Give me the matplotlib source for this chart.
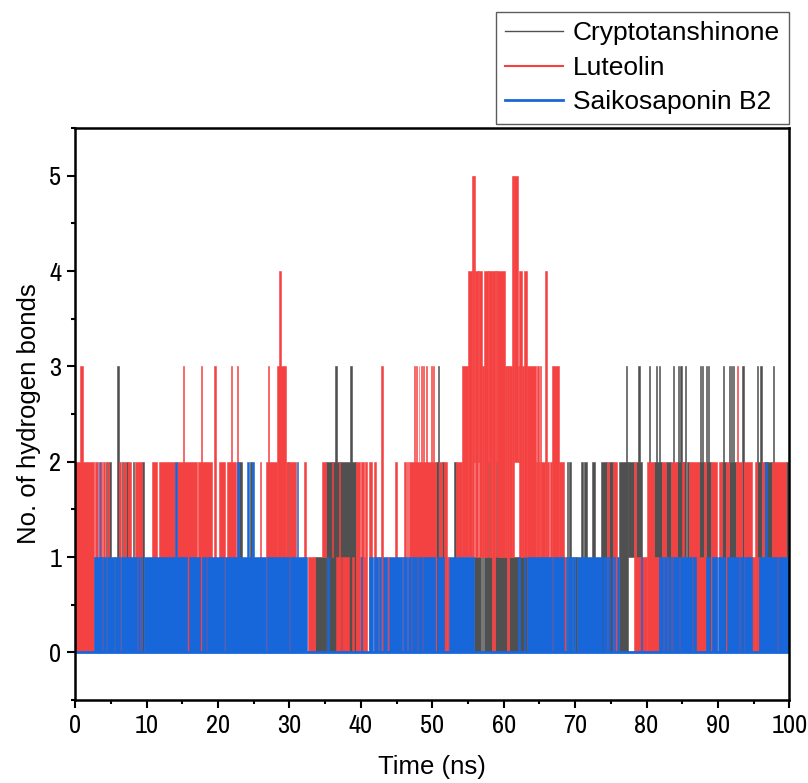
import matplotlib
matplotlib.use("Agg")
import matplotlib.pyplot as plt
from matplotlib.lines import Line2D
from matplotlib.ticker import MultipleLocator
from matplotlib import font_manager

plt.rcParams['font.family'] = ['Liberation Sans', 'DejaVu Sans']

# tick numbers in the original are set in a narrow face; use one if installed
narrow = None
for f in font_manager.fontManager.ttflist:
    if f.style != 'normal' or str(f.weight) not in ('400', 'normal', 'regular'):
        continue
    if 'Narrow' in f.name or (f.stretch == 'condensed' and f.name in ('Noto Sans', 'Open Sans', 'Roboto')):
        narrow = f.fname
        break
if narrow:
    tick_font = font_manager.FontProperties(fname=narrow, size=19)
else:
    tick_font = font_manager.FontProperties(family='Liberation Sans', size=16)

# Hydrogen bond count read off the trajectory plot as runs:
# (start ns, end ns, lowest count, highest count) the trace sweeps within that window
cryptotanshinone = [
    (3.70, 3.85, 0, 1), (4.25, 4.50, 0, 2), (4.80, 5.05, 0, 2), (5.50, 5.62, 0, 1),
    (5.90, 6.08, 0, 3), (6.50, 6.70, 0, 2), (7.15, 7.35, 0, 2), (8.10, 8.30, 0, 2),
    (9.40, 9.70, 0, 2), (22.90, 23.40, 0, 2), (24.55, 24.75, 0, 2), (29.80, 29.95, 0, 2),
    (33.60, 35.10, 0, 1), (35.10, 39.30, 0, 2), (36.45, 36.65, 2, 3), (38.55, 38.75, 2, 3),
    (50.55, 50.75, 0, 2), (50.85, 51.00, 0, 3), (51.40, 51.60, 0, 2), (53.00, 53.30, 0, 2),
    (55.80, 56.80, 0, 1), (56.95, 57.05, 0, 1), (57.20, 58.40, 0, 1), (57.85, 57.95, 0, 2),
    (58.80, 60.40, 0, 1), (58.95, 59.05, 0, 2), (60.70, 63.30, 0, 1),
    (68.85, 69.05, 0, 2), (69.10, 69.40, 0, 2), (69.55, 69.70, 0, 1), (70.05, 70.20, 0, 1),
    (70.80, 71.10, 0, 2), (71.20, 71.70, 0, 2), (72.40, 72.80, 0, 2), (73.60, 74.40, 0, 2),
    (74.80, 75.30, 0, 2), (76.10, 77.35, 0, 2), (77.35, 78.20, 1, 2), (77.10, 77.30, 2, 3),
    (78.50, 79.30, 0, 2), (78.85, 79.05, 2, 3), (80.30, 80.45, 0, 3), (81.00, 82.20, 0, 2),
    (81.35, 81.50, 2, 3), (81.80, 81.95, 2, 3), (82.70, 83.40, 0, 2), (83.75, 83.90, 0, 3),
    (84.30, 85.50, 0, 2), (84.45, 84.60, 2, 3), (84.75, 84.90, 2, 3), (85.35, 85.50, 2, 3),
    (85.70, 85.95, 0, 2), (87.30, 88.00, 0, 2), (87.45, 87.60, 2, 3), (87.70, 87.85, 2, 3),
    (88.30, 89.00, 0, 2), (88.30, 88.45, 2, 3), (88.65, 88.80, 2, 3), (90.60, 91.10, 0, 2),
    (90.75, 90.90, 2, 3), (91.50, 92.50, 0, 2), (91.55, 91.70, 2, 3), (91.85, 92.00, 2, 3),
    (92.10, 92.25, 2, 3), (93.40, 93.60, 0, 3), (95.50, 96.20, 0, 2), (95.45, 95.60, 2, 3),
    (95.95, 96.10, 2, 3), (96.40, 97.60, 0, 2), (97.75, 97.90, 0, 3), (99.50, 99.80, 0, 2),
]

luteolin = [
    (0.00, 2.60, 0, 2), (0.65, 1.05, 2, 3), (2.75, 3.25, 0, 2), (3.50, 3.70, 0, 2),
    (3.85, 4.20, 0, 2), (4.50, 4.80, 0, 2), (6.08, 6.45, 0, 2), (6.70, 7.10, 0, 2),
    (7.35, 7.75, 0, 2), (8.40, 9.30, 0, 2), (10.70, 11.50, 0, 2), (11.80, 13.95, 0, 2),
    (14.25, 17.00, 0, 2), (15.10, 15.28, 2, 3), (17.20, 19.20, 0, 2), (17.65, 17.82, 2, 3),
    (19.50, 19.70, 0, 3), (20.10, 20.95, 0, 2), (21.25, 22.50, 0, 2), (21.80, 21.95, 2, 3),
    (22.60, 22.75, 0, 3), (25.85, 26.05, 0, 2), (26.70, 28.30, 0, 2), (26.95, 27.10, 2, 3),
    (28.30, 29.50, 0, 3), (28.60, 28.80, 3, 4), (29.50, 29.80, 0, 2), (30.00, 30.95, 0, 2),
    (32.10, 32.30, 0, 2), (32.60, 33.60, 0, 1), (34.60, 35.10, 1, 2), (36.00, 36.10, 1, 2),
    (36.50, 37.20, 0, 1), (37.00, 37.10, 1, 2), (37.40, 38.30, 0, 1), (38.70, 39.00, 0, 1),
    (39.30, 39.85, 0, 2), (39.85, 40.05, 0, 1), (40.05, 40.40, 0, 2), (40.40, 40.55, 0, 1),
    (40.55, 40.90, 0, 2), (41.20, 41.50, 0, 2), (41.80, 42.10, 0, 2), (42.40, 42.60, 0, 1),
    (42.80, 43.05, 0, 3), (43.70, 43.90, 0, 1), (44.80, 45.10, 0, 2), (45.70, 45.90, 0, 1),
    (46.00, 46.30, 0, 2), (46.45, 46.60, 0, 2), (46.80, 50.55, 0, 2), (47.45, 47.60, 2, 3),
    (47.75, 47.85, 2, 3), (48.10, 48.20, 2, 3), (48.40, 48.50, 2, 3), (48.70, 48.80, 2, 3),
    (49.10, 49.25, 2, 3), (49.85, 50.00, 2, 3), (50.05, 50.20, 2, 3), (50.95, 51.35, 0, 2),
    (51.60, 52.10, 0, 2), (52.10, 52.30, 0, 1), (53.30, 54.20, 1, 2), (54.20, 55.00, 1, 3),
    (55.00, 55.50, 1, 4), (55.50, 55.80, 1, 5), (55.80, 56.05, 2, 5), (56.05, 56.40, 1, 4),
    (56.40, 56.60, 2, 4), (56.60, 57.00, 1, 4), (57.00, 57.20, 1, 3), (57.20, 57.85, 1, 4),
    (57.85, 57.95, 2, 4), (57.95, 58.40, 1, 4), (58.40, 58.80, 0, 4), (58.80, 58.95, 1, 4),
    (58.95, 59.05, 2, 4), (59.05, 60.20, 1, 4), (60.20, 60.40, 1, 3), (60.40, 60.70, 0, 3),
    (60.70, 61.10, 1, 3), (61.10, 61.45, 1, 5), (61.45, 62.05, 2, 5), (62.05, 62.20, 2, 3),
    (62.20, 62.50, 1, 4), (62.50, 62.80, 1, 3), (62.80, 63.20, 1, 4), (63.20, 64.50, 0, 3),
    (64.50, 64.70, 0, 2), (64.70, 64.90, 0, 3), (64.90, 65.05, 0, 2), (65.05, 65.20, 0, 3),
    (65.20, 65.85, 0, 2), (65.85, 66.10, 0, 4), (66.10, 66.35, 0, 2), (66.50, 66.70, 0, 2),
    (66.70, 67.80, 0, 3), (67.80, 68.40, 0, 2), (68.40, 68.70, 0, 1), (74.50, 74.80, 0, 2),
    (75.30, 75.90, 0, 2), (78.20, 78.50, 0, 2), (78.50, 80.10, 0, 1), (80.10, 81.00, 0, 2),
    (81.00, 81.70, 0, 1), (82.20, 82.70, 0, 2), (82.85, 82.95, 0, 1), (83.40, 84.30, 0, 2),
    (84.60, 84.70, 0, 1), (84.90, 85.30, 0, 2), (85.95, 87.30, 0, 2), (87.30, 88.00, 0, 1),
    (88.00, 88.30, 0, 2), (89.00, 89.90, 0, 2), (90.15, 90.60, 0, 2), (91.10, 91.50, 0, 2),
    (92.50, 93.40, 0, 2), (92.60, 92.85, 2, 3), (93.60, 94.80, 0, 2), (94.80, 95.20, 0, 1),
    (95.20, 95.50, 0, 2), (95.50, 95.80, 0, 1), (96.20, 96.40, 0, 2), (97.60, 99.50, 0, 2),
]

saikosaponin_b2 = [
    (2.70, 3.70, 0, 1), (3.85, 4.30, 0, 1), (4.50, 5.50, 0, 1), (5.62, 6.30, 0, 1),
    (6.45, 8.70, 0, 1), (8.85, 9.10, 0, 1), (9.25, 9.40, 0, 1), (9.70, 15.70, 0, 1),
    (15.90, 17.50, 0, 1), (17.70, 18.30, 0, 1), (18.50, 20.80, 0, 1), (21.00, 26.70, 0, 1),
    (26.90, 29.90, 0, 1), (30.10, 32.50, 0, 1), (35.30, 35.50, 0, 1), (40.00, 40.20, 0, 1),
    (41.10, 41.75, 0, 1), (41.90, 42.40, 0, 1), (42.60, 42.85, 0, 1), (43.05, 43.70, 0, 1),
    (43.90, 45.70, 0, 1), (45.90, 46.40, 0, 1), (46.60, 47.00, 0, 1), (47.20, 47.85, 0, 1),
    (48.00, 48.55, 0, 1), (48.70, 50.40, 0, 1), (50.60, 51.60, 0, 1), (52.30, 55.80, 0, 1),
    (62.00, 62.30, 0, 1), (62.80, 63.00, 0, 1), (63.30, 66.70, 0, 1), (66.90, 68.40, 0, 1),
    (68.70, 68.85, 0, 1), (69.05, 69.55, 0, 1), (69.70, 70.05, 0, 1), (70.20, 73.75, 0, 1),
    (73.90, 74.45, 0, 1), (74.60, 74.95, 0, 1), (75.10, 75.35, 0, 1), (75.50, 75.60, 0, 1),
    (75.80, 76.10, 0, 1), (79.20, 79.40, 0, 1), (81.70, 82.35, 0, 1), (82.45, 82.85, 0, 1),
    (82.95, 83.35, 0, 1), (83.45, 83.55, 0, 1), (83.70, 84.55, 0, 1), (84.70, 86.35, 0, 1),
    (86.50, 86.90, 0, 1), (88.30, 88.95, 0, 1), (89.10, 89.85, 0, 1), (90.00, 91.05, 0, 1),
    (91.20, 92.95, 0, 1), (93.10, 93.55, 0, 1), (93.70, 94.80, 0, 1), (95.80, 98.20, 0, 1),
    (98.40, 100.00, 0, 1),
    (3.30, 3.50, 1, 2), (14.00, 14.20, 1, 2), (22.60, 22.90, 1, 2), (24.10, 24.30, 1, 2),
    (24.80, 25.00, 1, 2), (31.00, 31.20, 1, 2), (96.60, 96.80, 1, 2),
]

# Saikosaponin B2 rests at zero bonds over the whole run
sim_time = (0, 100)
resting_level = 0

names = ["Cryptotanshinone", "Luteolin", "Saikosaponin B2"]
colors = ["#505050", "#F44242", "#1767DA"]

fig = plt.figure(figsize=(8.08, 7.83), dpi=100)
ax = fig.add_axes([0.093, 0.106, 0.884, 0.7305])

for runs, color in zip([cryptotanshinone, luteolin, saikosaponin_b2], colors):
    starts = [r[0] for r in runs]
    widths = [r[1] - r[0] for r in runs]
    lows = [r[2] for r in runs]
    heights = [r[3] - r[2] for r in runs]
    ax.bar(starts, heights, width=widths, bottom=lows, align='edge',
           color=color, edgecolor=color, linewidth=0.4)

ax.hlines(resting_level, sim_time[0], sim_time[1], color=colors[2], linewidth=2)

ax.set_xlim(0, 100)
ax.set_ylim(-0.5, 5.5)
ax.xaxis.set_major_locator(MultipleLocator(10))
ax.xaxis.set_minor_locator(MultipleLocator(5))
ax.yaxis.set_major_locator(MultipleLocator(1))
ax.yaxis.set_minor_locator(MultipleLocator(0.5))
ax.tick_params(which='major', direction='out', length=6, width=1.5)
ax.tick_params(axis='x', which='major', pad=4)
ax.tick_params(axis='y', which='major', pad=4)
ax.tick_params(which='minor', direction='out', length=3, width=1.5)
for lab in ax.get_xticklabels() + ax.get_yticklabels():
    lab.set_fontproperties(tick_font)
for s in ax.spines.values():
    s.set_linewidth(1.8)

ax.set_xlabel("Time (ns)", fontsize=18.5, labelpad=13)
ax.set_ylabel("No. of hydrogen bonds", fontsize=18.5, labelpad=6)

handles = [Line2D([], [], color=colors[0], linewidth=1),
           Line2D([], [], color=colors[1], linewidth=1.5),
           Line2D([], [], color=colors[2], linewidth=2)]
leg = fig.legend(handles, names, loc='upper right', bbox_to_anchor=(789 / 808, 1 - 12 / 783),
                 fontsize=19, frameon=True, fancybox=False, edgecolor='#333333',
                 handlelength=2.2, handletextpad=0.35, labelspacing=0.4,
                 borderpad=0.35, borderaxespad=0)
leg.get_frame().set_linewidth(1)

fig.savefig("out.png", dpi=100, facecolor='white')
